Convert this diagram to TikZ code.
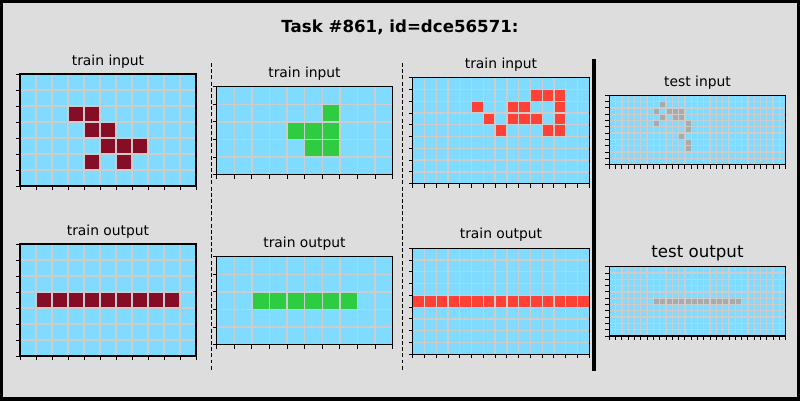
\documentclass[tikz,border=0pt]{standalone}
\usepackage{fontspec}
\setmainfont{DejaVu Sans}
\definecolor{bgcol}{RGB}{221,221,221}
\definecolor{azure}{RGB}{127,219,255}
\definecolor{maroon}{RGB}{135,12,37}
\definecolor{arcgreen}{RGB}{46,204,64}
\definecolor{arcred}{RGB}{255,65,54}
\definecolor{arcgray}{RGB}{170,170,170}
\definecolor{gridcol}{RGB}{204,204,204}
\tikzset{
  gridline/.style={gridcol, line width=1.3},
  frame/.style={black, line width=1.3},
  tick/.style={black, line width=0.9},
  lbl/.style={font=\fontsize{13.9}{16}\selectfont, inner sep=0pt},
  biglbl/.style={font=\fontsize{16.7}{19}\selectfont, inner sep=0pt},
  sepline/.style={black, line width=1, dash pattern=on 4 off 2.2},
}
% board: left, top, cols, rows, cell, colour, cells c/r
\newcommand{\board}[7]{%
  \fill[azure] (#1,#2) rectangle ++({#3*#5},{#4*#5});
  \foreach \c/\r in {#7}
    \fill[#6] ({#1+\c*#5},{#2+\r*#5}) rectangle ++(#5,#5);
  \foreach \i in {1,...,#3}
    \draw[gridline] ({#1+\i*#5},#2) -- ++(0,{#4*#5});
  \foreach \j in {1,...,#4}
    \draw[gridline] (#1,{#2+\j*#5}) -- ++({#3*#5},0);
  \draw[frame] (#1,#2) rectangle ++({#3*#5},{#4*#5});
  \foreach \j in {0,...,#4}
    \draw[tick] (#1,{#2+\j*#5}) -- ++(-4,0);
  \foreach \i in {0,...,#3}
    \draw[tick] ({#1+\i*#5},{#2+#4*#5}) -- ++(0,4);
}
\begin{document}
\begin{tikzpicture}[x=1bp, y=-1bp]
		\useasboundingbox (0,0) rectangle (800,400);
		\fill[bgcol] (0,0) rectangle (800,400);
		\draw[line width=7] (0,0) rectangle (800,400);
		
		\node (title) at (400,27) [font=\fontsize{16.7}{19}\selectfont\bfseries, inner sep=0pt]{Task \#861, id=dce56571:};
		
		%train pair 1
		\node (in1) at (108,62) [lbl]{train input};
		\board{20}{74}{11}{7}{16}{maroon}{3/2,4/2,4/3,5/3,5/4,6/4,7/4,4/5,6/5}
		\node (out1) at (108,232) [lbl]{train output};
		\board{20}{244}{11}{7}{16}{maroon}{1/3,2/3,3/3,4/3,5/3,6/3,7/3,8/3,9/3}
		
		%train pair 2
		\node (in2) at (304.5,74) [lbl]{train input};
		\board{216.7}{86.7}{10}{5}{17.6}{arcgreen}{6/1,4/2,5/2,6/2,5/3,6/3}
		\node (out2) at (304.5,244) [lbl]{train output};
		\board{216.7}{256.7}{10}{5}{17.6}{arcgreen}{2/2,3/2,4/2,5/2,6/2,7/2}
		
		%train pair 3
		\node (in3) at (501,65) [lbl]{train input};
		\board{412.7}{77.7}{15}{9}{11.77}{arcred}{10/1,11/1,12/1,5/2,8/2,9/2,12/2,6/3,8/3,9/3,10/3,12/3,7/4,11/4,12/4}
		\node (out3) at (501,235) [lbl]{train output};
		\board{412.7}{248.3}{15}{9}{11.77}{arcred}{0/4,1/4,2/4,3/4,4/4,5/4,6/4,7/4,8/4,9/4,10/4,11/4,12/4,13/4,14/4}
		
		%test pair
		\node (tin) at (697.5,83) [lbl]{test input};
		\board{609.3}{95.3}{28}{11}{6.3}{arcgray}{8/1,7/2,9/2,10/2,11/2,8/3,10/3,11/3,7/4,12/4,12/5,11/6,12/7,12/8}
		\node (tout) at (697.5,253) [biglbl]{test output};
		\board{609.3}{266.7}{28}{11}{6.3}{arcgray}{7/5,8/5,9/5,10/5,11/5,12/5,13/5,14/5,15/5,16/5,17/5,18/5,19/5,20/5}
		
		%separators
		\coordinate (s1a) at (211,63);
		\coordinate (s1b) at (211,370);
		\coordinate (s2a) at (402,63);
		\coordinate (s2b) at (402,370);
		\coordinate (s3a) at (594,59);
		\coordinate (s3b) at (594,371);
		\draw[sepline] (s1a) -- (s1b);
		\draw[sepline] (s2a) -- (s2b);
		\draw[line width=3.5] (s3a) -- (s3b);
		\end{tikzpicture}
\end{document}
